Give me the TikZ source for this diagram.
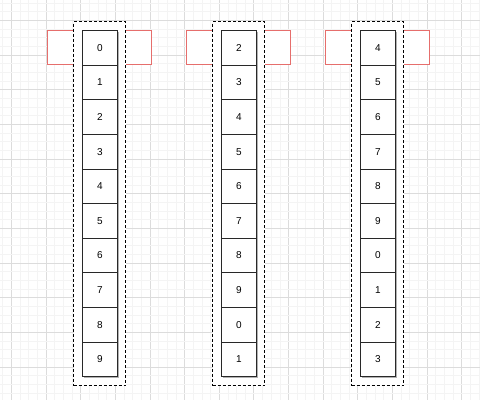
\documentclass[tikz,border=0pt]{standalone}
\usepackage{fontspec}
\setmainfont{Liberation Sans}
\definecolor{minorgrid}{RGB}{244,244,244}
\definecolor{majorgrid}{RGB}{220,220,220}
\definecolor{redline}{RGB}{230,110,108}
\definecolor{cellline}{RGB}{40,40,40}
\begin{document}
\begin{tikzpicture}[x=1pt,y=-1pt,
  redbox/.style={draw=redline, fill=white, line width=1pt, minimum width=104pt, minimum height=34pt, inner sep=0pt, outer sep=0pt, anchor=north west},
  dashbox/.style={draw=black, fill=white, line width=1pt, dash pattern=on 3pt off 2pt, minimum width=52pt, minimum height=364pt, inner sep=0pt, outer sep=0pt, anchor=north west},
  cell/.style={draw=cellline, fill=white, line width=0.9pt, minimum width=35pt, minimum height=34.6pt, inner sep=0pt, outer sep=0pt, anchor=north west, font=\fontsize{10}{12}\selectfont},
  shadow/.style={fill=black!30, draw=none}]
\useasboundingbox (0,0) rectangle (480,400);
\fill[white] (0,0) rectangle (480,400);
% grid
\foreach \k in {0,...,55}{
  \pgfmathsetmacro\xx{2.65+8.6625*\k}
  \pgfmathtruncatemacro\m{mod(\k,4)}
  \ifnum\m=1
    \draw[majorgrid, line width=0.8pt] (\xx,0) -- (\xx,400);
  \else
    \draw[minorgrid, line width=0.7pt] (\xx,0) -- (\xx,400);
  \fi
}
\foreach \k in {0,...,46}{
  \pgfmathsetmacro\yy{3.1+8.6625*\k}
  \pgfmathtruncatemacro\m{mod(\k,4)}
  \ifnum\m=2
    \draw[majorgrid, line width=0.8pt] (0,\yy) -- (480,\yy);
  \else
    \draw[minorgrid, line width=0.7pt] (0,\yy) -- (480,\yy);
  \fi
}
% columns
\foreach \c/\s in {0/0,1/2,2/4}{
  \pgfmathsetmacro\ox{139*\c}
  \node[redbox] (r\c) at (47.5+\ox,30.5) {};
  \node[dashbox] (d\c) at (73.5+\ox,21.5) {};
  \fill[shadow] (83.5+\ox,31.9) rectangle (118.5+\ox,377.9);
  \foreach \j in {0,...,9}{
    \pgfmathtruncatemacro\v{mod(\s+\j,10)}
    \node[cell] (c\c-\j) at (82.5+\ox,30.6+34.6*\j) {\v};
  }
}
\end{tikzpicture}
\end{document}
